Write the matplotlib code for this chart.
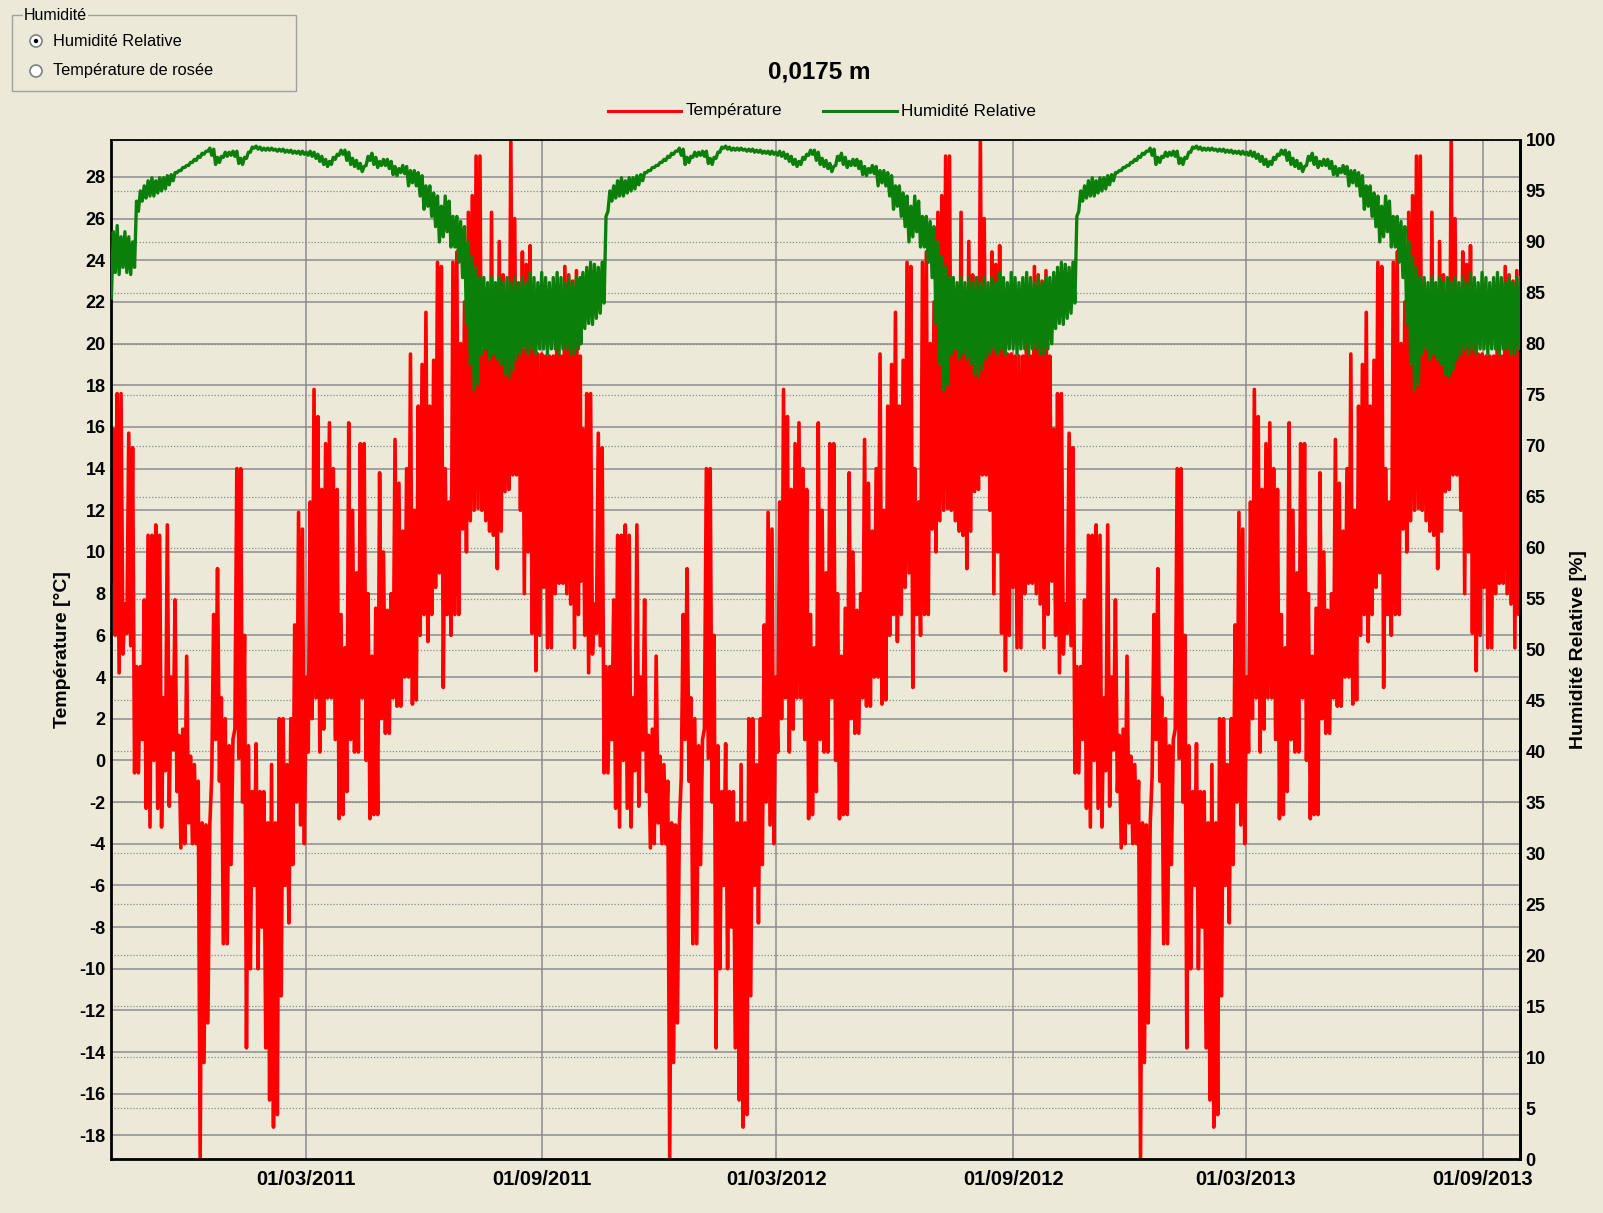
import numpy as np
import matplotlib
matplotlib.use("Agg")
import matplotlib.pyplot as plt
import matplotlib.dates as mdates
from matplotlib.patches import Rectangle, Circle
from matplotlib.lines import Line2D

plt.rcParams['font.family'] = ['Liberation Sans', 'DejaVu Sans']
plt.rcParams['axes.unicode_minus'] = False

# ======================================================
# Data
# one climate year (1 Oct -> 30 Sep), one low and one high value per 3 days,
# repeated for the three simulated years
# ======================================================

year_starts = ["2010-10-01", "2011-10-01", "2012-10-01"]
step_hours = 72

temp_lo = [8.6, 6.0, 4.2, 5.1, 6.1, 5.5,
           -0.6, -0.6, 1.0, -2.3, -3.2, 0.0, -2.3, -3.2, -0.5, -2.2, 0.5,
           -1.5, -4.2, -4.0, -3.0, -4.0, -4.0,
           -19.1, -14.5, -12.6,
           -0.8, 1.0, -1.0,
           -8.8, -8.8, -5.0,
           1.5, 0.1, -2.0,
           -13.8, -10.0, -6.0, -10.0,
           -8.0, -13.8, -16.3, -17.6, -17.0,
           -11.3, -6.0,
           -7.8, -5.0, -2.0, -3.1, -4.0,
           0.4, 2.0, 3.0, 0.4, 1.5, 3.0, 3.0, 1.0, -2.8,
           -2.6, -1.5, 1.0, 0.4, 0.4, 3.0, 0.0, -2.8, -2.6, -2.6, 2.0,
           1.3, 1.3, 3.0, 2.6, 2.6, 4.0, 4.0, 2.7, 2.9, 6.0, 7.0,
           5.7, 7.0, 8.3, 9.0, 3.5,
           7.0, 6.0, 7.0, 7.0, 11.1, 10.0, 11.5, 12.0, 12.1,
           12.0, 11.5, 11.0, 10.8, 9.2, 11.0, 12.9, 13.0,
           13.7, 13.7, 12.0, 8.0, 10.0, 6.1, 4.3, 6.0,
           8.3, 5.4, 5.4, 8.0, 8.5, 8.5, 8.0, 7.5, 5.4, 7.0]

temp_hi = [15.9, 17.6, 17.6, 7.5, 15.7, 15.0,
           4.5, 4.5, 7.7, 10.8, 10.8, 11.3, 10.8, 3.0, 11.3, 4.0, 7.7,
           1.2, 1.5, 5.0, 0.2, -0.2, -1.0,
           -3.0, -3.1, -3.1,
           7.0, 9.2, 3.0,
           2.0, 0.7, 1.0,
           14.0, 14.0, 6.0,
           0.7, -1.5, 0.8, -1.5,
           -1.5, -3.0, -0.2, -3.0, 2.0,
           2.0, -0.2,
           2.0, 6.5, 11.9, 11.1, 4.0,
           12.4, 17.8, 16.5, 13.0, 15.2, 16.2, 14.0, 13.0, 7.0,
           5.4, 16.2, 12.0, 9.0, 15.2, 15.2, 8.0, 5.0, 7.3, 13.8, 10.0,
           7.2, 8.0, 15.4, 13.3, 11.0, 14.0, 19.5, 12.0, 17.0, 19.0, 21.5,
           17.0, 19.2, 23.9, 23.7, 14.0,
           12.4, 23.9, 24.4, 20.0, 22.0, 26.3, 27.1, 29.0, 29.0,
           22.0, 22.0, 26.3, 22.0, 24.9, 23.3, 22.0, 29.8,
           26.0, 22.0, 24.4, 23.8, 24.7, 22.0, 19.5, 19.5,
           19.4, 19.4, 19.4, 22.8, 19.4, 23.7, 23.3, 23.0, 23.5, 19.4]

hr_lo = [80.0, 81.5, 82.0, 81.9, 82.5, 83.0,
         84.0, 93.0, 94.0, 94.3, 94.5, 94.5, 94.8, 95.0, 95.2, 95.6, 96.0,
         96.8, 97.0, 97.3, 97.5, 97.8, 98.0, 98.3, 98.6, 98.9,
         98.5, 97.6, 97.8, 98.3, 98.4, 98.5, 98.4, 97.7, 97.6, 98.2, 98.8, 99.2,
         99.1, 99.0, 99.0, 99.0, 99.0, 98.9, 98.9, 98.8, 98.8, 98.7, 98.7, 98.6, 98.6,
         98.5, 98.4, 98.2, 97.9, 97.6, 97.4, 97.6, 98.1, 98.5,
         98.6, 98.0, 97.6, 97.4, 97.2, 96.9, 97.5, 98.0, 97.6, 97.3, 97.5,
         97.5, 97.2, 96.6, 96.5, 96.8, 96.7,
         95.5, 95.8, 95.5, 94.5, 93.2, 93.5, 92.5, 91.5, 90.0, 90.5,
         91.0, 89.5, 89.5, 88.0, 86.5, 82.0, 78.0, 75.5, 76.0,
         79.0, 79.5, 78.5, 79.0, 78.5, 78.0, 77.0, 76.8,
         77.5, 78.5, 79.0, 79.5, 79.0, 79.5, 79.0, 79.5,
         79.5, 79.0, 79.5, 79.5, 79.0, 79.5, 79.5, 79.0, 79.0, 79.5]

hr_hi = [87.0, 87.5, 88.0, 87.8, 87.5, 88.0,
         92.5, 95.0, 95.5, 96.0, 96.3, 96.0, 96.3, 96.3, 96.5, 96.6, 96.8,
         97.0, 97.3, 97.5, 97.8, 98.1, 98.4, 98.7, 98.9, 99.2,
         99.1, 98.3, 98.4, 98.8, 98.8, 98.9, 98.9, 98.2, 98.3, 98.8, 99.3, 99.4,
         99.3, 99.2, 99.2, 99.2, 99.1, 99.1, 99.1, 99.0, 99.0, 98.9, 98.9, 98.9, 98.8,
         98.9, 98.8, 98.6, 98.4, 98.1, 97.9, 98.3, 98.6, 99.0,
         99.0, 98.8, 98.2, 98.0, 97.7, 97.4, 98.4, 98.7, 98.3, 97.9, 98.1,
         98.1, 97.9, 97.4, 97.2, 97.5, 97.4,
         97.0, 97.0, 96.8, 96.5, 95.5, 95.5, 94.8, 94.5, 93.5, 94.5,
         94.0, 92.5, 92.5, 92.0, 91.5, 90.0, 88.5, 87.5, 86.5,
         86.5, 86.0, 86.5, 86.0, 86.5, 86.0, 86.5, 86.0,
         86.5, 86.0, 86.5, 86.0, 87.0, 86.5, 86.0, 87.0,
         86.5, 86.0, 86.5, 87.0, 86.5, 86.0, 86.5, 86.0, 86.5, 86.5]

# first weeks of the first year, before the moisture has settled
hr_lo_start = [84.5, 87.0, 86.8, 87.5, 87.0, 86.8, 87.5]
hr_hi_start = [91.0, 91.6, 90.5, 91.0, 90.5, 90.0, 94.0]

date_ticks = ["2011-03-01", "2011-09-01", "2012-03-01",
              "2012-09-01", "2013-03-01", "2013-09-01"]
x_start, x_end = "2010-10-01", "2013-09-30"
temp_ticks = list(range(-18, 29, 2))
hr_ticks = list(range(0, 101, 5))

# ======================================================
# Helpers
# ======================================================

def zigzag(lo, hi, start):
    t0 = np.datetime64(start + "T00:00")
    times, values = [], []
    for k, (a, b) in enumerate(zip(lo, hi)):
        times.append(t0 + np.timedelta64(k * step_hours, 'h'))
        values.append(a)
        times.append(t0 + np.timedelta64(k * step_hours + step_hours // 2, 'h'))
        values.append(b)
    return times, values


def series(lo, hi, first_lo=None, first_hi=None):
    times, values = [], []
    for i, start in enumerate(year_starts):
        l, h = list(lo), list(hi)
        if i == 0 and first_lo is not None:
            n = len(first_lo)
            l[:n] = first_lo
            h[:n] = first_hi
        t, v = zigzag(l, h, start)
        times += t
        values += v
    return np.array(times), np.array(values)


t_temp, v_temp = series(temp_lo, temp_hi)
t_hr, v_hr = series(hr_lo, hr_hi, hr_lo_start, hr_hi_start)

# ======================================================
# Figure
# ======================================================

W, H = 1603, 1213
bg = '#ece9d8'
red = '#ff0000'
green = '#0a800a'
fig = plt.figure(figsize=(W / 100, H / 100), dpi=100, facecolor=bg)

ax = fig.add_axes([111.4 / W, 1 - 1159 / H, (1520 - 111.4) / W, (1159 - 140) / H])
ax.set_facecolor(bg)
ax2 = ax.twinx()

# grids: solid for temperature, dotted for humidity (kept behind the series)
ax.hlines(np.array(hr_ticks) / 100, 0, 1, transform=ax.transAxes,
          colors='#8c8c8c', lw=0.9, linestyles=(0, (1, 1.5)), zorder=0)
for v in temp_ticks:
    ax.axhline(v, color='#8c8c8c', lw=1.1, zorder=0.5)
for d in date_ticks:
    ax.axvline(np.datetime64(d), color='#8c8c8c', lw=1.1, zorder=0.5)

ax.plot(t_temp, v_temp, color=red, lw=2.6, zorder=2)
ax2.plot(t_hr, v_hr, color=green, lw=2.4, zorder=3)

ax.set_xlim(np.datetime64(x_start), np.datetime64(x_end))
ax.set_ylim(-19.13, 29.77)
ax2.set_ylim(0, 100)

ax.set_xticks([np.datetime64(d) for d in date_ticks])
ax.xaxis.set_major_formatter(mdates.DateFormatter('%d/%m/%Y'))
ax.set_yticks(temp_ticks)
ax2.set_yticks(hr_ticks)

for lab in ax.get_xticklabels() + ax.get_yticklabels() + ax2.get_yticklabels():
    lab.set_fontweight('bold')
ax.tick_params(axis='x', length=0, pad=8, labelsize=14.5)
ax.tick_params(axis='y', length=0, pad=4, labelsize=13)
ax2.tick_params(axis='y', length=0, pad=4, labelsize=13)

for sp in ax.spines.values():
    sp.set_color('black')
    sp.set_linewidth(2)
ax.spines['top'].set_linewidth(1.3)
for name, sp in ax2.spines.items():
    sp.set_visible(name == 'right')
    sp.set_linewidth(2)

ax.set_ylabel('Température [°C]', fontsize=14, fontweight='bold', va='center')
ax.yaxis.set_label_coords((63 - 111.4) / 1408.6, 0.5)
ax2.set_ylabel('Humidité Relative [%]', fontsize=14, fontweight='bold',
               rotation=90, va='center')
ax2.yaxis.set_label_coords((1579 - 111.4) / 1408.6, 0.5)

# title and legend
fig.text(819 / W, 1 - 72 / H, '0,0175 m', ha='center', va='center',
         fontsize=17.5, fontweight='bold')
fig.add_artist(Line2D([608 / W, 681 / W], [1 - 111 / H] * 2, color=red, lw=2.2))
fig.text(686 / W, 1 - 111 / H, 'Température', va='center', fontsize=12.3)
fig.add_artist(Line2D([823 / W, 897 / W], [1 - 111 / H] * 2, color=green, lw=2.2))
fig.text(901 / W, 1 - 111 / H, 'Humidité Relative', va='center', fontsize=12.3)

# radio group box at the top left
fig.add_artist(Rectangle((12 / W, 1 - 91 / H), (296 - 12) / W, (91 - 15) / H,
                         fill=False, edgecolor='#a0a0a0', lw=1))
fig.text(24 / W, 1 - 16 / H, 'Humidité', va='center', fontsize=11.5,
         bbox=dict(facecolor=bg, edgecolor='none', pad=0.5))
for cy, label, on in [(41, 'Humidité Relative', True), (71, 'Température de rosée', False)]:
    fig.add_artist(Circle((36 / 100, (H - cy) / 100), 0.06, transform=fig.dpi_scale_trans,
                          facecolor='white', edgecolor='#808080', lw=1.2))
    if on:
        fig.add_artist(Circle((36 / 100, (H - cy) / 100), 0.022, transform=fig.dpi_scale_trans,
                              facecolor='black', edgecolor='none'))
    fig.text(53 / W, 1 - cy / H, label, va='center', fontsize=11.8)

fig.savefig('out.png', dpi=100, facecolor=bg)
